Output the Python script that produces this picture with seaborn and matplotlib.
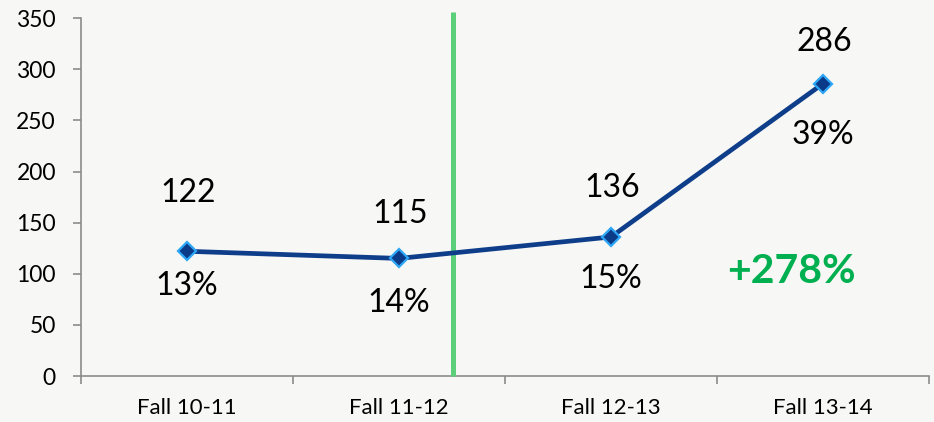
import matplotlib
matplotlib.use("Agg")
import matplotlib.pyplot as plt
import seaborn as sns
import pandas as pd

categories = ["Fall 10-11", "Fall 11-12", "Fall 12-13", "Fall 13-14"]
values = [122, 115, 136, 286]
pct_labels = ["13%", "14%", "15%", "39%"]
growth_label = "+278%"
y_ticks = [0, 50, 100, 150, 200, 250, 300, 350]

# label offsets in points (above value label, below percentage label)
above_off = [42, 32, 35, 30]
below_off = [-25, -32, -30, -37]

sns.set_style("white")
plt.rcParams["font.family"] = ["Lato", "DejaVu Sans"]

bg = "#f7f7f5"
fig = plt.figure(figsize=(9.34, 4.22), dpi=100, facecolor=bg)
ax = fig.add_axes([0.0867, 0.109, 0.908, 0.848])
ax.set_facecolor(bg)

df = pd.DataFrame({"cat": categories, "val": values})
df["pos"] = range(len(categories))

sns.lineplot(data=df, x="pos", y="val", ax=ax, color="#0e3d8a", linewidth=3.4,
             marker="D", markersize=9, markerfacecolor="#0b3b88",
             markeredgecolor="#2ea6f7", markeredgewidth=1.6, zorder=4)

ax.set_xlim(-0.5, len(categories) - 0.5)
ax.set_ylim(0, 350)
ax.set_yticks(y_ticks)
ax.set_yticklabels([str(t) for t in y_ticks])
ax.set_xticks(range(len(categories)))
ax.set_xticklabels(categories)
ax.set_xticks([i - 0.5 for i in range(len(categories) + 1)], minor=True)
ax.set_xlabel("")
ax.set_ylabel("")

for s in ["top", "right"]:
    ax.spines[s].set_visible(False)
for s in ["left", "bottom"]:
    ax.spines[s].set_color("#8c8c8c")
    ax.spines[s].set_linewidth(1.2)

ax.tick_params(axis="y", which="major", length=6, width=1.2, color="#8c8c8c",
               labelsize=16.5, pad=12, labelcolor="black", left=True)
ax.tick_params(axis="x", which="major", length=0, labelsize=16, pad=16,
               labelcolor="black", bottom=True)
ax.tick_params(axis="x", which="minor", length=6, width=1.2, color="#8c8c8c",
               bottom=True)

# vertical green divider
ax.plot([1.255, 1.255], [0, 356], color="#5ccf7a", linewidth=3.6,
        clip_on=False, zorder=3, solid_capstyle="butt")

for i, (v, p) in enumerate(zip(values, pct_labels)):
    ax.annotate(str(v), (i, v), xytext=(1, above_off[i]), textcoords="offset points",
                ha="center", va="center", fontsize=23, color="black")
    ax.annotate(p, (i, v), xytext=(0, below_off[i]), textcoords="offset points",
                ha="center", va="center", fontsize=23, color="black")

ax.text(2.85, 102, growth_label, ha="center", va="center", fontsize=29.5,
        fontweight="bold", color="#00b050")

fig.savefig("out.png", dpi=100, facecolor=bg)
